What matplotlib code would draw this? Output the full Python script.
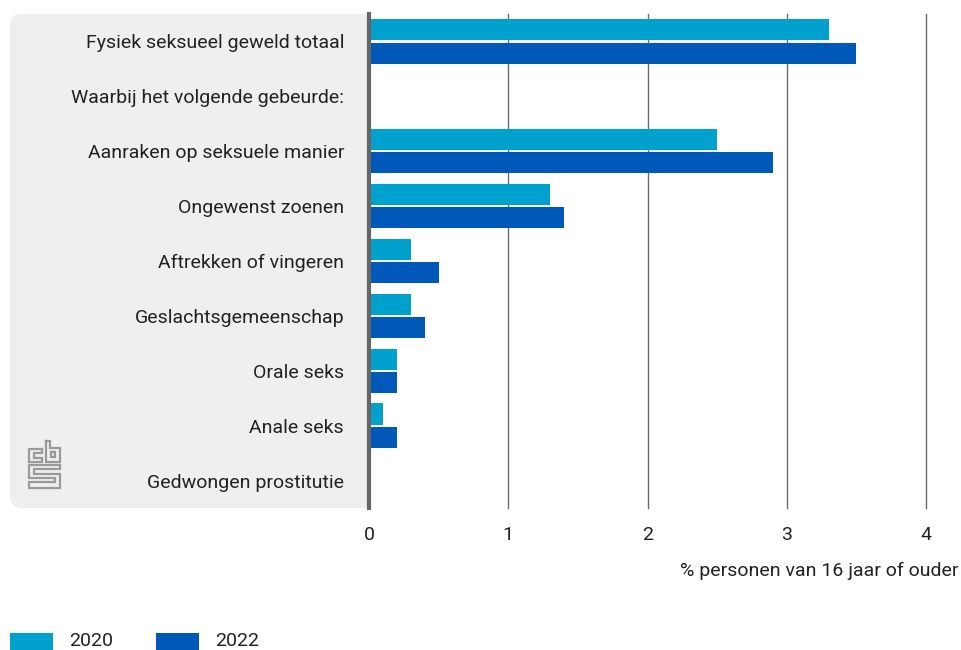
import matplotlib
matplotlib.use("Agg")
import matplotlib.pyplot as plt
from matplotlib.patches import FancyBboxPatch, Rectangle
from matplotlib.lines import Line2D
import numpy as np

plt.rcParams['font.family'] = ['Roboto', 'DejaVu Sans']

categories = ["Fysiek seksueel geweld totaal", "Waarbij het volgende gebeurde:",
              "Aanraken op seksuele manier", "Ongewenst zoenen", "Aftrekken of vingeren",
              "Geslachtsgemeenschap", "Orale seks", "Anale seks", "Gedwongen prostitutie"]
v2020 = [3.3, np.nan, 2.5, 1.3, 0.3, 0.3, 0.2, 0.1, 0.0]
v2022 = [3.5, np.nan, 2.9, 1.4, 0.5, 0.4, 0.2, 0.2, 0.0]
series = ["2020", "2022"]
colors = ["#00A1CD", "#0058B8"]
xticks = [0, 1, 2, 3, 4]
xlabel = "% personen van 16 jaar of ouder"

W, H = 961, 650
fig = plt.figure(figsize=(W/100, H/100), dpi=100)

def fx(px): return px / W
def fy(py): return 1 - py / H

FS = 14
TC = "#222222"

# grey panel behind labels
panel = FancyBboxPatch((fx(10), fy(508)), fx(380) - fx(10), fy(14) - fy(508),
                       boxstyle="round,pad=0,rounding_size=0.012",
                       transform=fig.transFigure, facecolor="#EFEFEF", edgecolor="none",
                       zorder=-5, mutation_aspect=W/H)
fig.patches.append(panel)

ax = fig.add_axes([fx(369), fy(508), fx(926) - fx(369), fy(14) - fy(508)])
ax.set_zorder(1)
ax.patch.set_facecolor("white")
y = np.arange(len(categories))
h = 0.385
ax.barh(y - h/2 - 0.02, v2020, height=h, color=colors[0], zorder=3)
ax.barh(y + h/2 + 0.02, v2022, height=h, color=colors[1], zorder=3)
ax.set_ylim(len(categories) - 0.5, -0.5)
ax.set_xlim(0, 4)
for s in ax.spines.values():
    s.set_visible(False)
for t in xticks[1:]:
    ax.axvline(t, color="#6b6b6b", lw=1.0, zorder=1, clip_on=False)
ax.axvline(0, color="#666666", lw=3.0, zorder=4, clip_on=False)
ax.set_yticks(y)
ax.set_yticklabels(categories, fontsize=FS, color=TC)
ax.tick_params(axis="y", length=0, pad=18)
ax.set_xticks(xticks)
ax.set_xticklabels([str(t) for t in xticks], fontsize=FS, color=TC)
ax.tick_params(axis="x", length=0, pad=13)

fig.text(fx(958), fy(571), xlabel, ha="right", va="center", fontsize=FS, color=TC)

# cbs logo (approximation)
lc = "#9a9a9a"
lw = 1.6
def L(xs, ys):
    fig.add_artist(Line2D([fx(v) for v in xs], [fy(v) for v in ys], color=lc, lw=lw,
                          transform=fig.transFigure, solid_joinstyle="miter"))
# c
L([42, 29, 29, 42, 42, 34, 34, 42, 42], [449, 449, 462, 462, 458, 458, 453, 453, 449])
# b
L([46, 46, 60, 60, 50, 50, 46], [441, 462, 462, 448, 448, 441, 441])
L([51, 55, 55, 51, 51], [452, 452, 457, 457, 452])
# s
L([60, 29, 29, 55, 55, 29, 29, 60, 60, 34, 34, 60, 60],
  [465, 465, 478, 478, 482, 482, 488, 488, 474, 474, 469, 469, 465])

# legend
for i, (s, c) in enumerate(zip(series, colors)):
    x0 = 10 + i * 146
    fig.patches.append(Rectangle((fx(x0), fy(650)), fx(43), fy(633) - fy(650),
                                 transform=fig.transFigure, facecolor=c, edgecolor="none"))
    fig.text(fx(x0 + 59), fy(641), s, ha="left", va="center", fontsize=FS, color=TC)

fig.savefig("out.png", dpi=100)
